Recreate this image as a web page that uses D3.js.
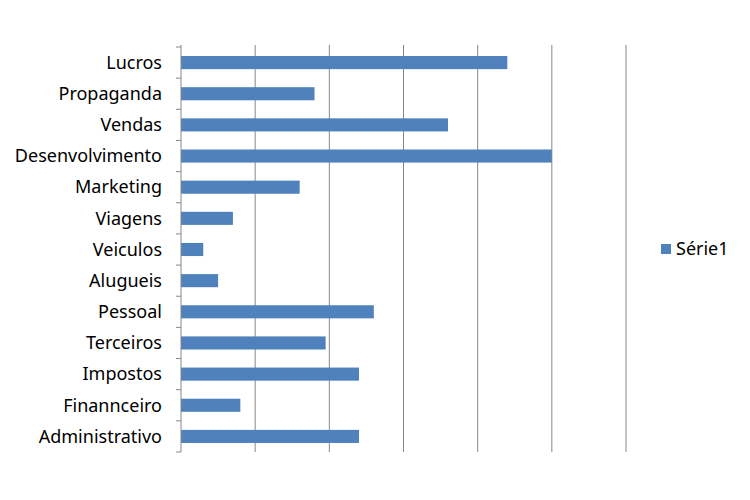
<!DOCTYPE html>
<html>
<head>
<meta charset="utf-8">
<script src="https://cdn.jsdelivr.net/npm/d3@7"></script>
<style>
  body { margin: 0; background: #fff; }
  svg { display: block; }
</style>
</head>
<body>
<svg id="chart" width="750" height="500"></svg>
<script>
const categories = ["Lucros","Propaganda","Vendas","Desenvolvimento","Marketing","Viagens","Veiculos","Alugueis","Pessoal","Terceiros","Impostos","Finannceiro","Administrativo"];
const values = [44, 18, 36, 50, 16, 7, 3, 5, 26, 19.5, 24, 8, 24];
const seriesName = "Série1";
const xTicks = [0, 10, 20, 30, 40, 50, 60];

const svg = d3.select("#chart");
const font = "'Noto Sans', 'DejaVu Sans', sans-serif";
const plotLeft = 181, plotRight = 626, plotTop = 47, plotBottom = 452;

const x = d3.scaleLinear().domain([0, 60]).range([plotLeft, plotRight]);
const y = d3.scaleBand().domain(categories).range([plotTop, plotBottom]).paddingInner(0.58).paddingOuter(0.29);

// gridlines
svg.append("g").selectAll("line").data(xTicks.slice(1)).join("line")
  .attr("x1", d => x(d)).attr("x2", d => x(d))
  .attr("y1", plotTop - 2).attr("y2", plotBottom)
  .attr("stroke", "#878787").attr("stroke-width", 1);

// bars
svg.append("g").selectAll("rect").data(categories).join("rect")
  .attr("x", x(0))
  .attr("y", (d) => y(d))
  .attr("width", (d, i) => x(values[i]) - x(0))
  .attr("height", y.bandwidth())
  .attr("fill", "#4F81BD");

// y axis line with ticks at category boundaries
const step = (plotBottom - plotTop) / categories.length;
svg.append("line").attr("x1", plotLeft).attr("x2", plotLeft).attr("y1", plotTop - 2).attr("y2", plotBottom)
  .attr("stroke", "#878787");
svg.append("g").selectAll("line").data(d3.range(categories.length + 1)).join("line")
  .attr("x1", plotLeft - 5).attr("x2", plotLeft)
  .attr("y1", i => plotTop + i * step).attr("y2", i => plotTop + i * step)
  .attr("stroke", "#878787");

// labels
svg.append("g").selectAll("text").data(categories).join("text")
  .attr("x", 162)
  .attr("y", d => y(d) + y.bandwidth() / 2)
  .attr("dy", "0.35em")
  .attr("text-anchor", "end")
  .attr("font-family", font)
  .attr("font-size", 18)
  .attr("fill", "#000")
  .text(d => d);

// legend
const lg = svg.append("g");
lg.append("rect").attr("x", 661).attr("y", 244).attr("width", 10).attr("height", 10).attr("fill", "#4F81BD");
lg.append("text").attr("x", 676).attr("y", 249).attr("dy", "0.35em")
  .attr("font-family", font).attr("font-size", 18).attr("fill", "#000").text(seriesName);
</script>
</body>
</html>
